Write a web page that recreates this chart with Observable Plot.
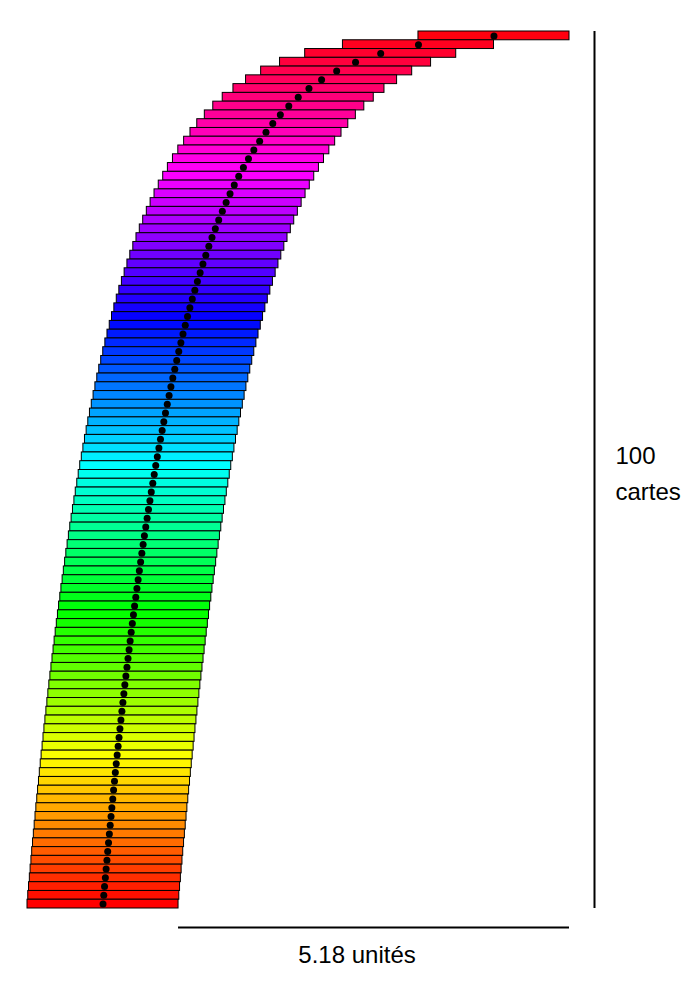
<!DOCTYPE html>
<html>
<head>
<meta charset="utf-8">
<script src="https://cdn.jsdelivr.net/npm/d3@7"></script>
<script src="https://cdn.jsdelivr.net/npm/@observablehq/plot@0.6"></script>
<style>
  html, body { margin: 0; padding: 0; background: #fff; }
</style>
</head>
<body>
<div id="chart"></div>
<script>
// Card number, counted from the top of the stack
const cardIndex = d3.range(1, 101);
// Right edge of each card, in units, measured from the right edge of the bottom card
const cardRight = [
  5.177, 4.177, 3.677, 3.344, 3.094, 2.894, 2.727, 2.585, 2.460, 2.348,
  2.248, 2.158, 2.074, 1.997, 1.926, 1.859, 1.797, 1.738, 1.682, 1.630,
  1.580, 1.532, 1.487, 1.443, 1.401, 1.361, 1.323, 1.286, 1.250, 1.216,
  1.182, 1.150, 1.119, 1.089, 1.059, 1.031, 1.003, 0.976, 0.950, 0.924,
  0.899, 0.875, 0.851, 0.827, 0.805, 0.783, 0.761, 0.740, 0.719, 0.698,
  0.678, 0.659, 0.639, 0.621, 0.602, 0.584, 0.566, 0.548, 0.531, 0.514,
  0.498, 0.481, 0.465, 0.449, 0.434, 0.418, 0.403, 0.388, 0.373, 0.359,
  0.345, 0.331, 0.317, 0.303, 0.289, 0.276, 0.263, 0.250, 0.237, 0.224,
  0.212, 0.200, 0.187, 0.175, 0.163, 0.152, 0.140, 0.129, 0.117, 0.106,
  0.095, 0.084, 0.073, 0.062, 0.052, 0.041, 0.031, 0.020, 0.010, 0.000
];
const cardLength = 2;
const countLabel = "100\ncartes";
const unitLabel = "unités";

const cards = cardIndex.map((i, k) => ({i, right: cardRight[k]}));
const overhang = cardRight[0];
const overhangLabel = d3.format(".2f")(overhang) + " " + unitLabel;

const chart = Plot.plot({
  width: 699,
  height: 1000,
  margin: 0,
  style: {fontFamily: "'Liberation Sans', Arial, Helvetica, sans-serif", background: "#fff"},
  x: {domain: [-cardLength, overhang], range: [27, 569], axis: null},
  y: {domain: [0, cardIndex.length], range: [31, 908], axis: null},
  color: {type: "linear", domain: [0, cardIndex.length], interpolate: t => d3.hsl((1 - t) * 360, 1, 0.5).toString()},
  marks: [
    Plot.rect(cards, {
      x1: d => d.right - cardLength, x2: "right",
      y1: d => d.i - 1, y2: "i",
      fill: "i", stroke: "black", strokeWidth: 1
    }),
    Plot.dot(cards, {
      x: d => d.right - cardLength / 2, y: d => d.i - 0.5,
      r: 3.5, fill: "black", stroke: "none"
    }),
    Plot.ruleX([overhang], {y1: 0, y2: cardIndex.length, dx: 25, stroke: "black", strokeWidth: 2}),
    Plot.ruleY([cardIndex.length], {x1: 0, x2: overhang, dy: 19, stroke: "black", strokeWidth: 2}),
    Plot.text([overhangLabel], {
      x: overhang / 2, y: cardIndex.length, dx: -17, dy: 47,
      text: d => d, fontSize: 24, fill: "black", textAnchor: "middle"
    }),
    Plot.text([countLabel], {
      x: overhang, y: cardIndex.length / 2, dx: 46, dy: 0,
      text: d => d, fontSize: 24, fill: "black", textAnchor: "start", lineHeight: 1.5
    })
  ]
});
document.getElementById("chart").appendChild(chart);
</script>
</body>
</html>
